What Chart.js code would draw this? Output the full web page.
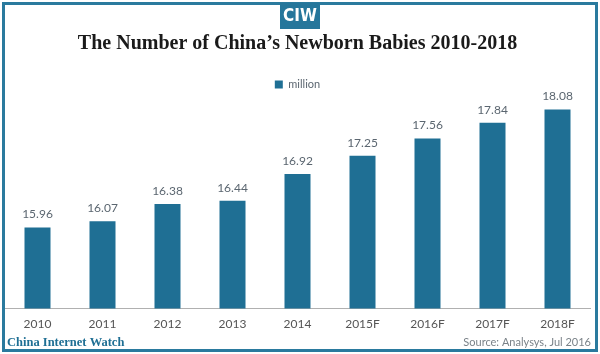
<!DOCTYPE html>
<html>
<head>
<meta charset="utf-8">
<script src="https://cdn.jsdelivr.net/npm/chart.js@4/dist/chart.umd.min.js"></script>
<style>
  html, body { margin: 0; padding: 0; background: #fff; }
  #wrap { width: 600px; height: 354px; position: relative; }
</style>
</head>
<body>
<div id="wrap"><canvas id="myChart" width="600" height="354"></canvas></div>
<script>
const years = ['2010', '2011', '2012', '2013', '2014', '2015F', '2016F', '2017F', '2018F']
const newborns = [15.96, 16.07, 16.38, 16.44, 16.92, 17.25, 17.56, 17.84, 18.08]
const seriesName = 'million'

const teal = '#1f6f94'
const grey = '#5b6670'

// frame, logo and footer texts
const decor = {
  id: 'decor',
  beforeDraw: chart => {
    const ctx = chart.ctx
    ctx.save()
    ctx.fillStyle = '#fff'
    ctx.fillRect(0, 0, chart.width, chart.height)
    ctx.restore()
  },
  afterDraw: chart => {
    const ctx = chart.ctx
    ctx.save()
    ctx.strokeStyle = '#2a7a9e'
    ctx.lineWidth = 3
    ctx.strokeRect(3.5, 3.5, 593, 347)

    ctx.fillStyle = '#25769b'
    ctx.fillRect(280, 3, 40, 26)
    ctx.fillStyle = '#fff'
    ctx.font = 'bold 17px "Liberation Sans Narrow", "DejaVu Sans Condensed", sans-serif'
    ctx.textAlign = 'center'
    ctx.textBaseline = 'middle'
    ctx.fillText('CIW', 300, 17)

    ctx.textBaseline = 'alphabetic'
    ctx.textAlign = 'left'
    ctx.fillStyle = teal
    ctx.font = 'bold 12.5px "Liberation Serif", serif'
    ctx.fillText('China Internet Watch', 7, 346)

    ctx.textAlign = 'right'
    ctx.fillStyle = '#7a8288'
    ctx.font = '11px Lato, sans-serif'
    ctx.fillText('Source: Analysys, Jul 2016', 591, 346)
    ctx.restore()
  }
}

// value labels above the bars
const barLabels = {
  id: 'barLabels',
  afterDatasetsDraw: chart => {
    const ctx = chart.ctx
    const meta = chart.getDatasetMeta(0)
    ctx.save()
    ctx.fillStyle = grey
    ctx.font = '12px Lato, sans-serif'
    ctx.textAlign = 'center'
    ctx.textBaseline = 'bottom'
    meta.data.forEach((bar, i) => {
      ctx.fillText(newborns[i].toFixed(2), bar.x, bar.y - 7)
    })
    ctx.restore()
  }
}

const ctx = document.getElementById('myChart').getContext('2d')
new Chart(ctx, {
  type: 'bar',
  data: {
    labels: years,
    datasets: [{
      label: seriesName,
      data: newborns,
      backgroundColor: teal,
      categoryPercentage: 1,
      barPercentage: 0.4
    }]
  },
  options: {
    responsive: false,
    animation: false,
    layout: { padding: { top: 8, left: 5, right: 10, bottom: 15 } },
    plugins: {
      title: {
        display: true,
        text: 'The Number of China\u2019s Newborn Babies 2010-2018',
        color: '#1a1a1a',
        font: { family: '"Liberation Serif", serif', size: 20, weight: 'bold' },
        padding: { top: 24, bottom: 17 }
      },
      legend: {
        display: true,
        position: 'top',
        labels: {
          boxWidth: 8,
          boxHeight: 8,
          color: grey,
          font: { family: 'Lato, sans-serif', size: 11 },
          padding: 6
        }
      },
      tooltip: { enabled: false }
    },
    scales: {
      x: {
        grid: { display: false, drawTicks: false },
        border: { color: '#b0b0b0' },
        ticks: {
          color: '#555',
          font: { family: 'Lato, sans-serif', size: 12 },
          padding: 8
        }
      },
      y: {
        display: false,
        min: 14.5,
        max: 18.25
      }
    }
  },
  plugins: [decor, barLabels]
})
</script>
</body>
</html>
